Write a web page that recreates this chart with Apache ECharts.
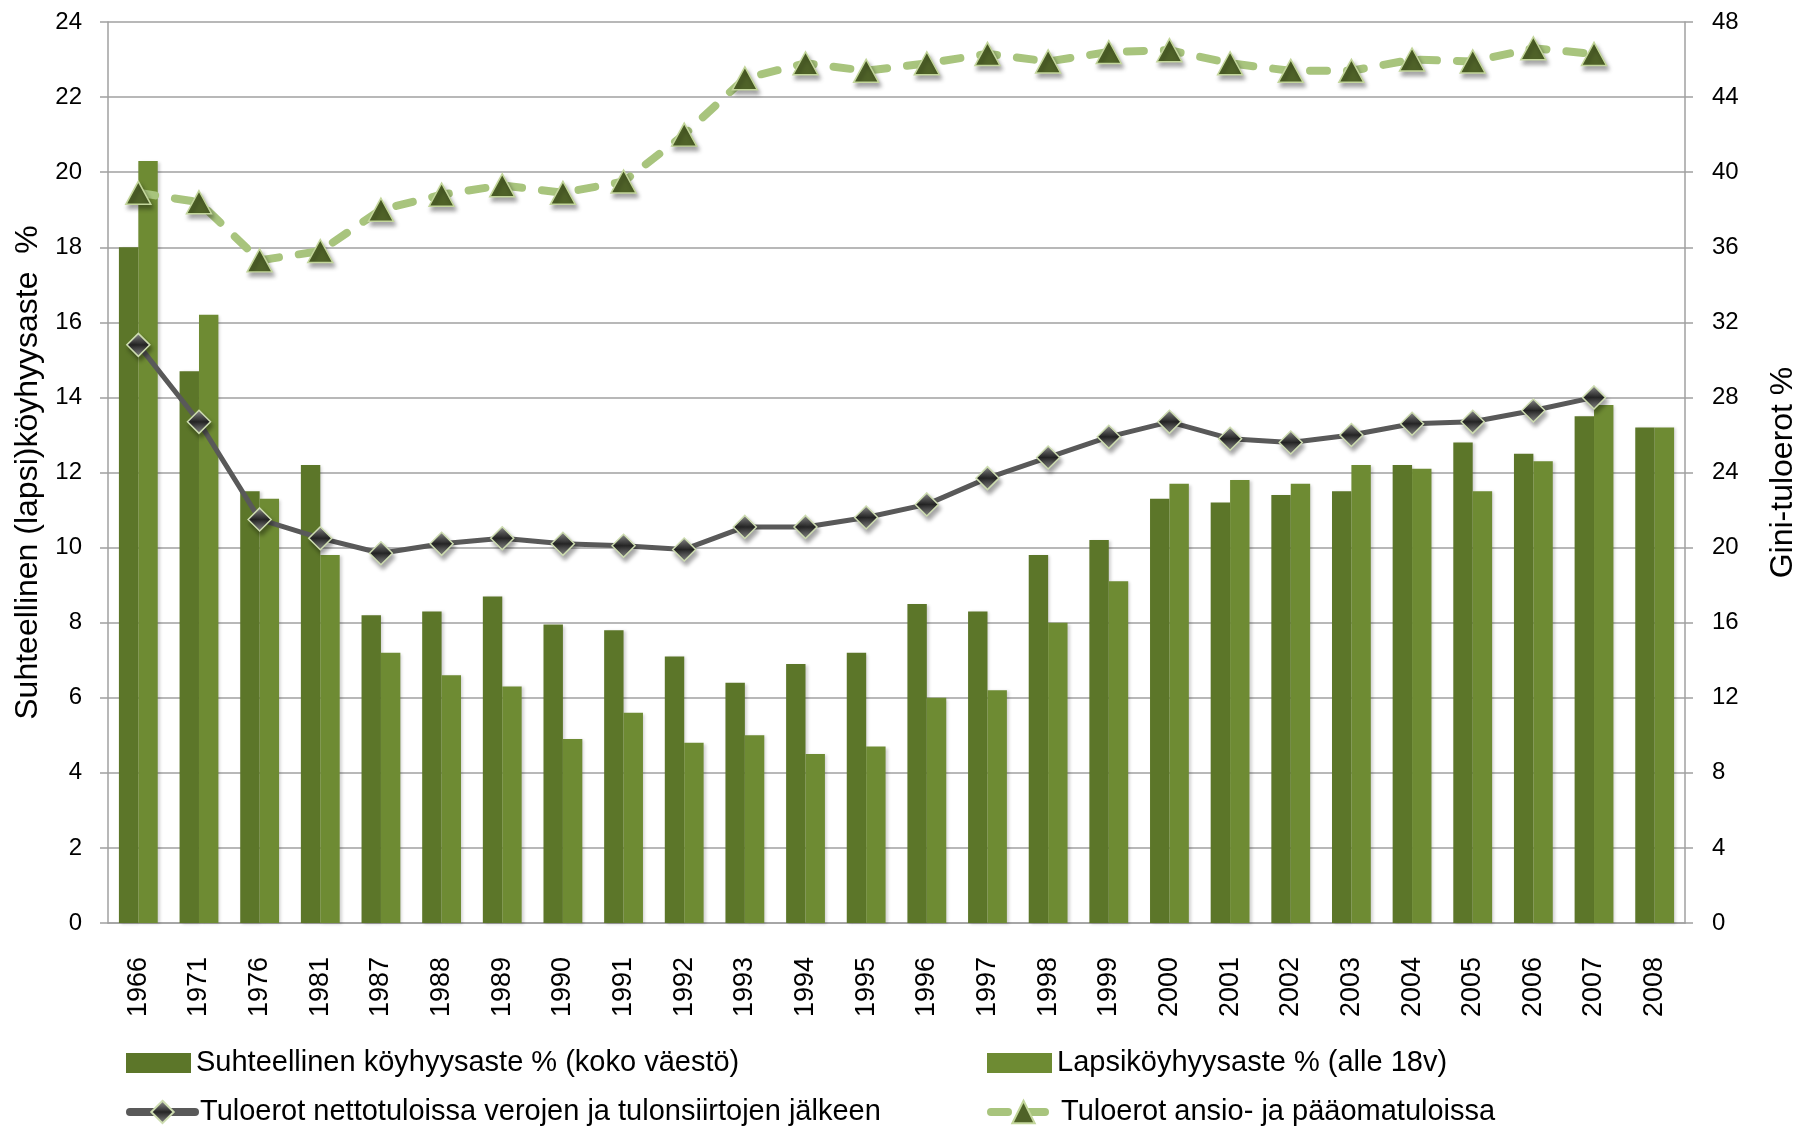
<!DOCTYPE html>
<html>
<head>
<meta charset="utf-8">
<title>Köyhyysaste ja tuloerot</title>
<script src="https://cdn.jsdelivr.net/npm/echarts/dist/echarts.min.js"></script>
<style>
    html, body { margin: 0; padding: 0; background: #fff; }
    #chart { width: 1798px; height: 1132px; }
</style>
</head>
<body>
<div id="chart"></div>
<script>
// vuodet
var years = ['1966','1971','1976','1981','1987','1988','1989','1990','1991','1992','1993','1994','1995',
             '1996','1997','1998','1999','2000','2001','2002','2003','2004','2005','2006','2007','2008'];

// köyhyysasteet % (vasen akseli)
var povertyAll   = [18.0,14.7,11.5,12.2,8.2,8.3,8.7,7.95,7.8,7.1,6.4,6.9,7.2,8.5,8.3,9.8,10.2,11.3,11.2,11.4,11.5,12.2,12.8,12.5,13.5,13.2];
var povertyChild = [20.3,16.2,11.3,9.8,7.2,6.6,6.3,4.9,5.6,4.8,5.0,4.5,4.7,6.0,6.2,8.0,9.1,11.7,11.8,11.7,12.2,12.1,11.5,12.3,13.8,13.2];

// gini % (oikea akseli)
var giniNet    = [30.8,26.7,21.5,20.5,19.7,20.2,20.5,20.2,20.1,19.9,21.1,21.1,21.6,22.3,23.7,24.8,25.9,26.7,25.8,25.6,26.0,26.6,26.7,27.3,28.0,null];
var giniMarket = [38.9,38.4,35.3,35.8,38.0,38.8,39.3,38.9,39.5,42.0,45.0,45.8,45.4,45.8,46.3,45.9,46.4,46.5,45.8,45.4,45.4,46.0,45.9,46.6,46.3,null];

var names = [
    'Suhteellinen köyhyysaste % (koko väestö)',
    'Lapsiköyhyysaste % (alle 18v)',
    'Tuloerot nettotuloissa verojen ja tulonsiirtojen jälkeen',
    'Tuloerot ansio- ja pääomatuloissa'
];

var font = '"Liberation Sans", Arial, sans-serif';
var gridColor = '#a0a0a0';
var netLine = { color: '#595959', width: 5 };
var marketLine = { color: '#A8C47D', width: 8, type: [17, 20], cap: 'round' };

var chart = echarts.init(document.getElementById('chart'));

var markerShadow = {
    shadowColor: 'rgba(0,0,0,0.35)',
    shadowBlur: 4,
    shadowOffsetX: 2,
    shadowOffsetY: 4
};

function legendBox(name, left, top, isLine, lineStyle) {
    var l = {
        left: left, top: top, padding: 0,
        itemWidth: 65, itemHeight: isLine ? 28 : 20,
        textStyle: { fontFamily: font, fontSize: 29, color: '#000', lineHeight: 30 },
        data: [isLine ? name : { name: name, icon: 'rect' }]
    };
    if (isLine) {
        l.lineStyle = { width: 8, color: lineStyle.color, type: lineStyle.type || 'solid', cap: 'round' };
    }
    return l;
}

var option = {
    backgroundColor: '#fff',
    animation: false,
    textStyle: { fontFamily: font, color: '#000' },
    grid: { left: 108, right: 113, top: 22, bottom: 209, outerBoundsMode: 'none' },
    legend: [
        legendBox(names[0], 126, 1048, false),
        legendBox(names[2], 126, 1097, true, netLine),
        legendBox(names[1], 987, 1048, false),
        legendBox(names[3], 987, 1097, true, marketLine)
    ],
    xAxis: {
        type: 'category',
        data: years,
        axisLine: { lineStyle: { color: gridColor, width: 1.5 } },
        axisTick: { length: 10, lineStyle: { color: gridColor, width: 1.5 } },
        axisLabel: { rotate: 90, margin: 34, fontSize: 27, color: '#000', fontFamily: font }
    },
    yAxis: [
        {
            type: 'value', min: 0, max: 24, interval: 2,
            name: 'Suhteellinen (lapsi)köyhyysaste  %',
            nameLocation: 'middle', nameRotate: 90, nameGap: 64,
            nameTextStyle: { fontSize: 32, color: '#000', fontFamily: font },
            axisLine: { show: true, lineStyle: { color: gridColor, width: 1.5 } },
            axisTick: { show: true, length: 8, lineStyle: { color: gridColor, width: 1.5 } },
            axisLabel: { margin: 26, fontSize: 24, color: '#000', fontFamily: font },
            splitLine: { lineStyle: { color: gridColor, width: 1.5 } }
        },
        {
            type: 'value', min: 0, max: 48, interval: 4,
            name: 'Gini-tuloerot %',
            nameLocation: 'middle', nameRotate: 90, nameGap: 82,
            nameTextStyle: { fontSize: 32, color: '#000', fontFamily: font },
            axisLine: { show: true, lineStyle: { color: gridColor, width: 1.5 } },
            axisTick: { show: true, length: 8, lineStyle: { color: gridColor, width: 1.5 } },
            axisLabel: { margin: 27, fontSize: 24, color: '#000', fontFamily: font },
            splitLine: { show: false }
        }
    ],
    series: [
        {
            name: names[0],
            type: 'bar',
            data: povertyAll,
            barGap: '0%',
            barCategoryGap: '36%',
            itemStyle: {
                color: '#5C7629',
                shadowColor: 'rgba(0,0,0,0.18)', shadowBlur: 3, shadowOffsetX: 2, shadowOffsetY: 1
            }
        },
        {
            name: names[1],
            type: 'bar',
            data: povertyChild,
            barGap: '0%',
            barCategoryGap: '36%',
            itemStyle: {
                color: '#6E8B33',
                shadowColor: 'rgba(0,0,0,0.18)', shadowBlur: 3, shadowOffsetX: 2, shadowOffsetY: 1
            }
        },
        {
            name: names[2],
            type: 'line',
            yAxisIndex: 1,
            data: giniNet,
            symbol: 'diamond',
            symbolSize: 23,
            lineStyle: netLine,
            itemStyle: Object.assign({
                color: {
                    type: 'linear', x: 0, y: 0, x2: 0, y2: 1,
                    colorStops: [
                        { offset: 0, color: '#9a9a9a' },
                        { offset: 0.5, color: '#262626' },
                        { offset: 1, color: '#8a8a8a' }
                    ]
                },
                borderColor: '#cddcb0',
                borderWidth: 1.5
            }, markerShadow),
            z: 3
        },
        {
            name: names[3],
            type: 'line',
            yAxisIndex: 1,
            data: giniMarket,
            symbol: 'triangle',
            symbolSize: [25, 23],
            lineStyle: marketLine,
            itemStyle: Object.assign({
                color: '#4F6228',
                borderColor: '#C3D69B',
                borderWidth: 1.5
            }, markerShadow),
            z: 4
        }
    ]
};

chart.setOption(option);
</script>
</body>
</html>
